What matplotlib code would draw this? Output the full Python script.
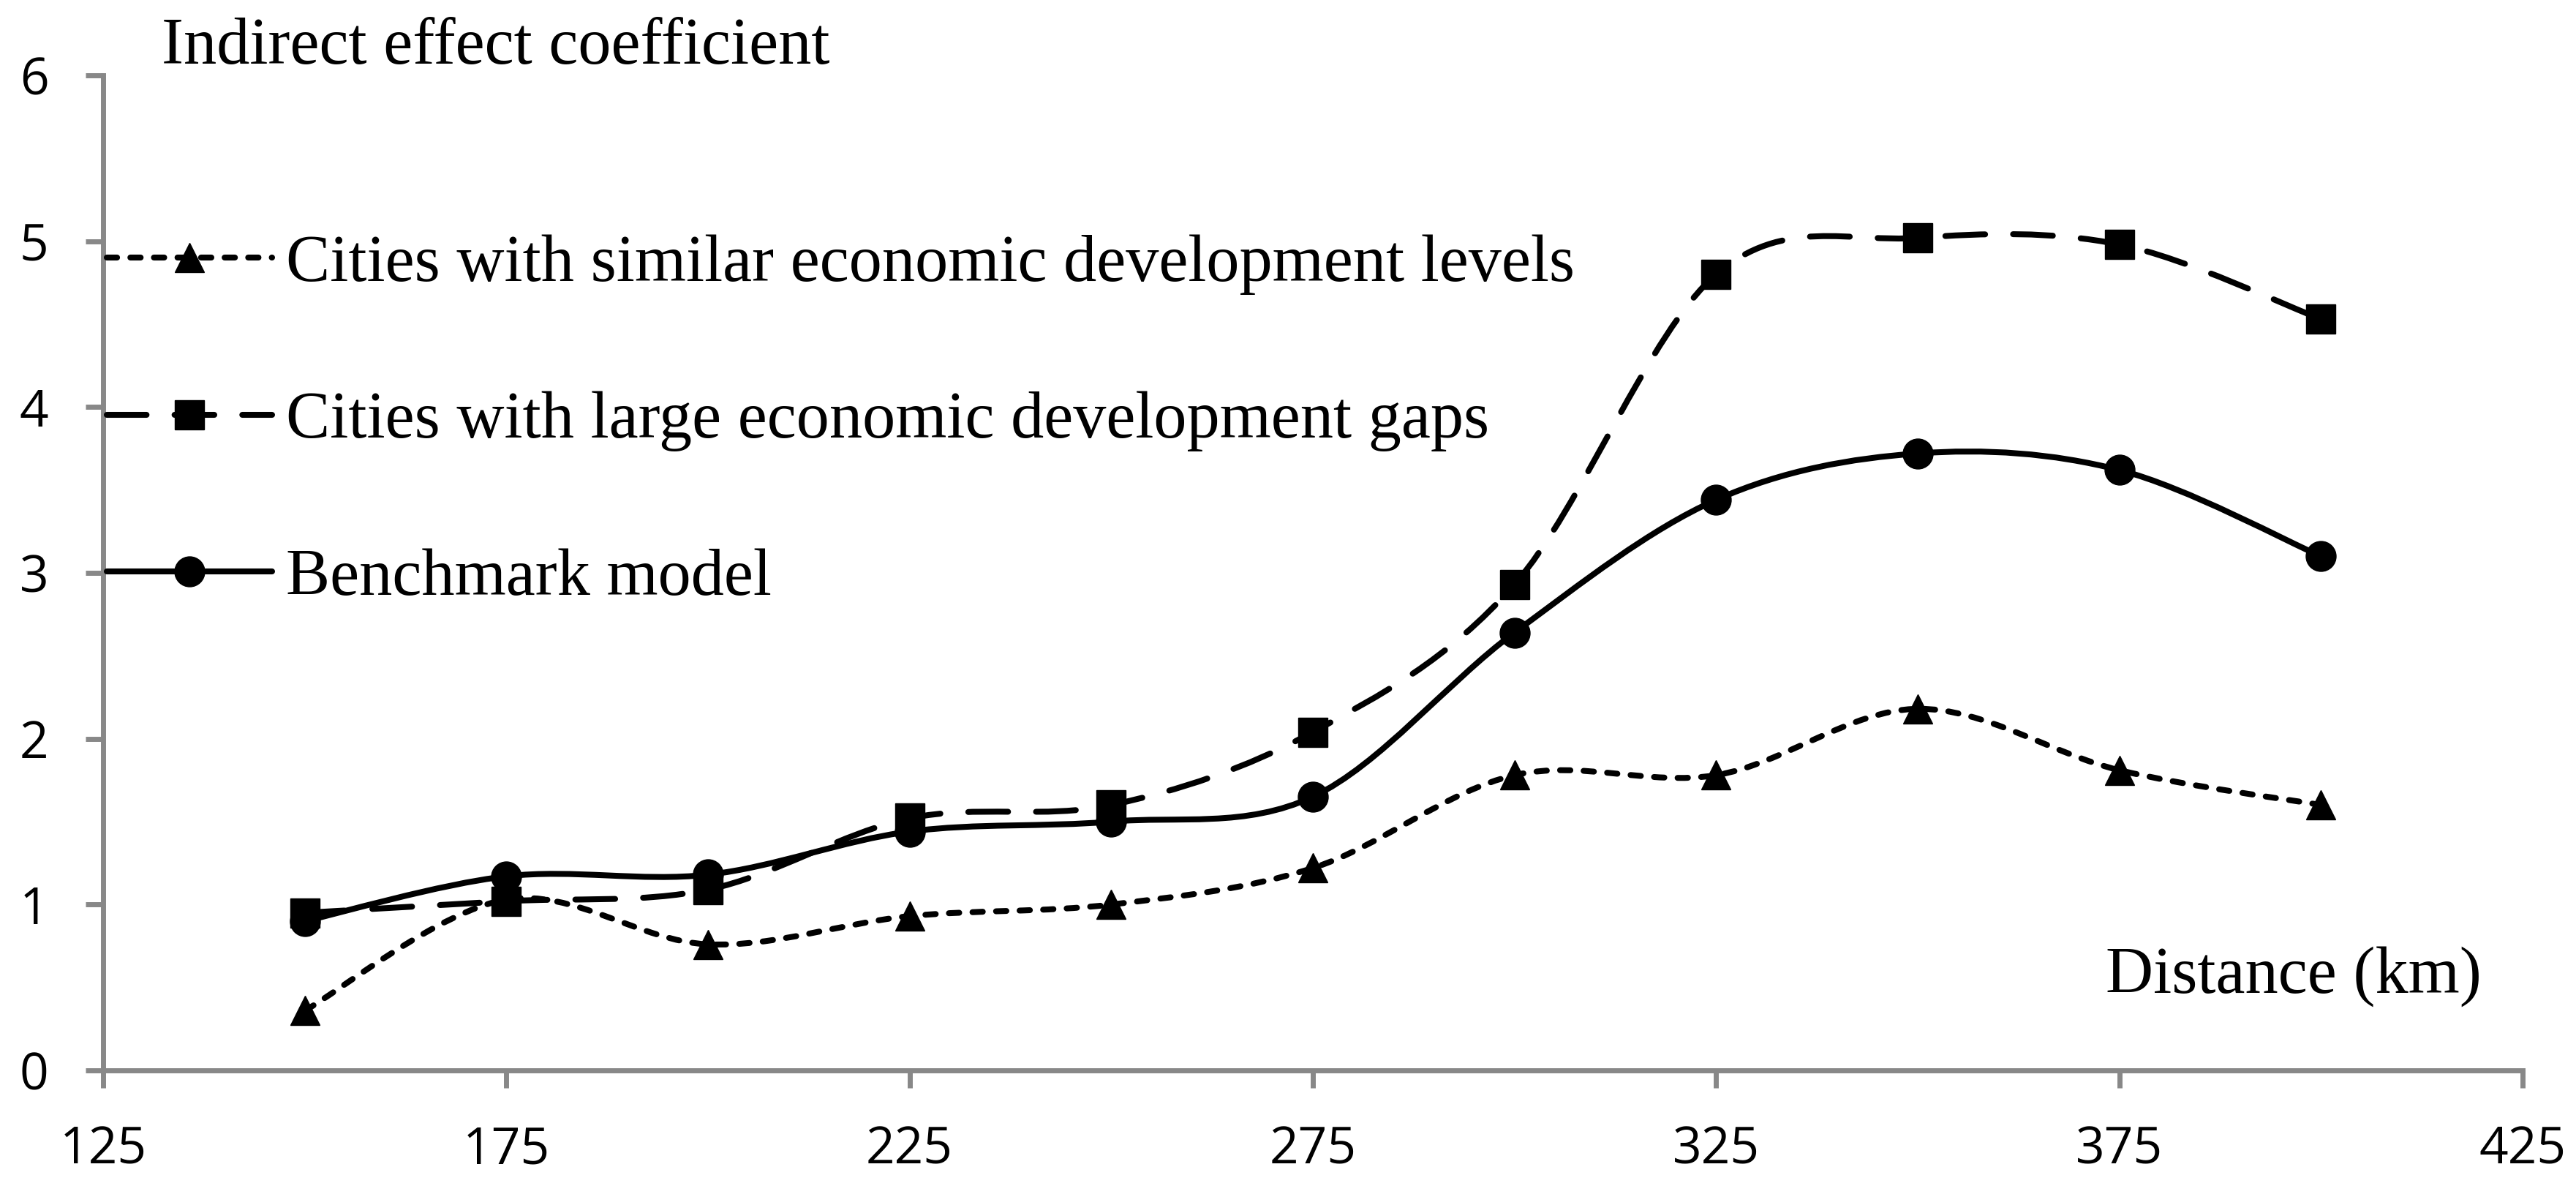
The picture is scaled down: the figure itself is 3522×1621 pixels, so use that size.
import matplotlib
matplotlib.use("Agg")
import matplotlib.pyplot as plt
import numpy as np
from matplotlib.path import Path
from matplotlib.patches import PathPatch
from matplotlib.lines import Line2D

plt.rcParams['font.family'] = ['Liberation Serif', 'DejaVu Serif']

# distance (km) and indirect effect coefficients
distance = [150, 175, 200, 225, 250, 275, 300, 325, 350, 375, 400]
similar = [0.36, 1.03, 0.76, 0.93, 1.00, 1.22, 1.78, 1.78, 2.18, 1.81, 1.60]
large_gap = [0.95, 1.02, 1.09, 1.52, 1.60, 2.04, 2.93, 4.80, 5.02, 4.98, 4.53]
benchmark = [0.90, 1.17, 1.18, 1.44, 1.50, 1.65, 2.64, 3.44, 3.72, 3.62, 3.10]

series_labels = ['Cities with similar economic development levels',
                 'Cities with large economic development gaps',
                 'Benchmark model']

AXIS_GREY = '#888888'
LW = 5.8
MS = 29.5


def smooth_path(xs, ys):
    # excel-style smoothed line: cubic bezier through the points
    pts = np.column_stack([xs, ys]).astype(float)
    n = len(pts)
    verts = [pts[0]]
    codes = [Path.MOVETO]
    for i in range(n - 1):
        p0 = pts[max(i - 1, 0)]
        p1 = pts[i]
        p2 = pts[i + 1]
        p3 = pts[min(i + 2, n - 1)]
        verts += [p1 + (p2 - p0) / 6, p2 - (p3 - p1) / 6, p2]
        codes += [Path.CURVE4] * 3
    return Path(verts, codes)


fig = plt.figure(figsize=(35.23, 16.21), dpi=100)
ax = fig.add_axes([0.040, 0.0975, 0.939, 0.839])

styles = [
    (similar, (0, (1.75, 2.25)), '^'),
    (large_gap, (0, (6.75, 4.75)), 's'),
    (benchmark, '-', 'o'),
]

handles = []
for (vals, ls, mk), lab in zip(styles, series_labels):
    ax.add_patch(PathPatch(smooth_path(distance, vals), fill=False,
                           edgecolor='black', lw=LW, linestyle=ls,
                           capstyle='round', joinstyle='round',
                           transform=ax.transData, zorder=3))
    ax.plot(distance, vals, ls='none', marker=mk, ms=MS, color='black',
            zorder=4, clip_on=False)
    handles.append(Line2D([], [], color='black', lw=LW, linestyle=ls,
                          marker=mk, ms=MS, dash_capstyle='round',
                          solid_capstyle='round'))

ax.set_xlim(125, 425)
ax.set_ylim(0, 6)
ax.set_xticks(range(125, 426, 50))
ax.set_yticks(range(0, 7))

for side in ['top', 'right']:
    ax.spines[side].set_visible(False)
for side in ['left', 'bottom']:
    ax.spines[side].set_color(AXIS_GREY)
    ax.spines[side].set_linewidth(5)

ax.tick_params(axis='both', direction='out', length=17.5, width=5,
               color=AXIS_GREY, labelsize=50, pad=36)
for lbl in ax.get_xticklabels() + ax.get_yticklabels():
    lbl.set_family(['Open Sans', 'DejaVu Sans'])

ax.text(132.3, 6.07, 'Indirect effect coefficient', fontsize=65,
        ha='left', va='baseline', clip_on=False)
ax.text(419.9, 0.47, 'Distance (km)', fontsize=65,
        ha='right', va='baseline')

ax.legend(handles, series_labels, loc='upper left',
          bbox_to_anchor=(0.0015, 0.840), frameon=False, fontsize=65,
          handlelength=2.5, handletextpad=0.22, labelspacing=1.46,
          borderpad=0, borderaxespad=0, numpoints=1)

fig.savefig('out.png', dpi=100)
